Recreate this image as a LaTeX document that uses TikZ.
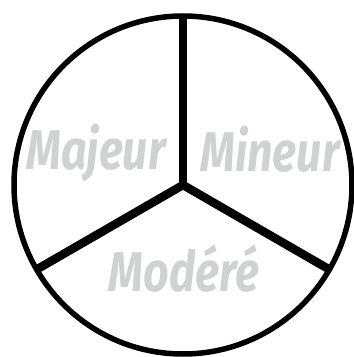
\documentclass[tikz,border=0pt]{standalone}
\usepackage{fontspec}
\setmainfont{Fira Sans}
\usetikzlibrary{calc}
\definecolor{brushgray}{RGB}{208,209,211}
\tikzset{
  wheel/.style={line width=5.5pt},
  spoke/.style={line width=8.5pt, line cap=round},
  label/.style={text=brushgray, font=\fontsize{56}{56}\selectfont\bfseries\itshape, anchor=base, inner sep=0pt, xscale=0.8}
}
\begin{document}
\begin{tikzpicture}[x=1pt,y=1pt]
	\useasboundingbox (0,0) rectangle (354,357);
	\coordinate (ctr) at (183,172);
	\coordinate (top) at ($(ctr)+(90:167)$);
	\coordinate (left) at ($(ctr)+(210:166)$);
	\coordinate (right) at ($(ctr)+(330:166)$);
	
	\node[label] (majeur) at (96,187) {Majeur};
	\node[label] (mineur) at (270,185) {Mineur};
	\node[label] (modere) at (184,65) {Modéré};
	
	\draw[wheel] (ctr) circle (169pt);
	\draw[spoke] (ctr) -- (top);
	\draw[spoke] (ctr) -- (left);
	\draw[spoke] (ctr) -- (right);
\end{tikzpicture}
\end{document}
